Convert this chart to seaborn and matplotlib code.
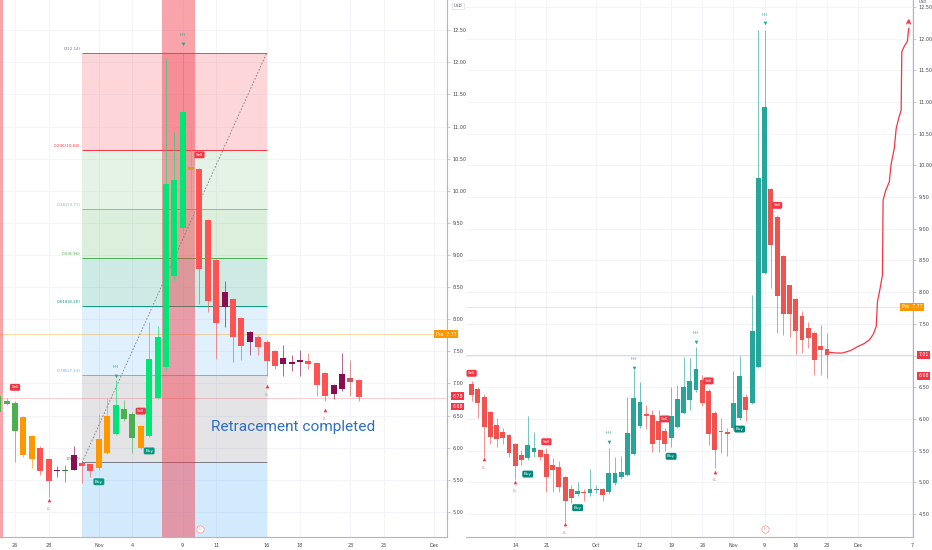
import numpy as np
import pandas as pd
import matplotlib
matplotlib.use('Agg')
import matplotlib.pyplot as plt
import matplotlib.transforms as mtrans
import seaborn as sns

# ---- left chart: 4h bars, two per trading day, x = trading days from Oct 26
l_start = -1.0
l_open = [6.55, 6.68, 6.70, 6.48, 6.19, 6.00, 5.82, 5.63, 5.64, 5.66, 5.76, 5.74,
          5.68, 5.91, 6.21, 6.61, 6.53, 6.34, 6.18, 6.78, 7.25, 8.68, 9.42, 10.37,
          10.34, 9.55, 8.92, 8.19, 8.31, 8.02, 7.65, 7.73, 7.65, 7.50, 7.30, 7.31,
          7.33, 7.35, 7.32, 7.17, 6.84, 6.92, 7.08, 7.06]
l_high = [6.85, 6.78, 6.72, 6.50, 6.20, 6.02, 5.84, 5.72, 5.73, 6.03, 5.80, 5.74,
          6.52, 6.77, 7.06, 6.75, 6.55, 6.36, 7.95, 7.90, 12.06, 10.92, 12.14, 10.94,
          10.36, 9.56, 8.94, 8.60, 8.33, 8.04, 7.82, 7.75, 7.67, 7.52, 7.60, 7.44,
          7.52, 7.48, 7.34, 7.18, 6.99, 7.48, 7.37, 7.07]
l_low = [6.50, 6.66, 5.77, 5.86, 5.69, 5.57, 5.24, 5.55, 5.47, 5.66, 5.45, 5.55,
         5.66, 5.90, 6.20, 6.42, 5.92, 5.98, 6.16, 6.76, 7.20, 8.60, 9.35, 9.75,
         8.23, 8.12, 7.375, 7.88, 7.33, 7.36, 7.45, 7.45, 7.11, 7.23, 7.11, 7.19,
         7.12, 7.22, 6.80, 6.73, 6.76, 6.88, 6.80, 6.73]
l_close = [6.80, 6.73, 6.26, 5.88, 5.83, 5.63, 5.48, 5.66, 5.65, 5.88, 5.72, 5.63,
           6.13, 6.50, 6.67, 6.44, 6.15, 6.00, 7.375, 7.72, 10.10, 10.17, 11.23, 10.33,
           8.78, 8.28, 7.94, 8.43, 7.72, 7.58, 7.80, 7.57, 7.35, 7.27, 7.39, 7.34,
           7.36, 7.30, 6.98, 6.81, 6.98, 7.14, 7.03, 6.79]
l_color = ['#4caf50', '#4caf50', '#4caf50', '#ff9800', '#ff9800', '#ff5252', '#ff5252',
           '#880e4f', '#2e7d32', '#880e4f', '#ff5252', '#ff5252', '#ff9800', '#ff9800',
           '#00e676', '#4caf50', '#4caf50', '#ff9800', '#00e676', '#00e676', '#00e676',
           '#00e676', '#00e676', '#c9a227', '#ff5252', '#ff5252', '#ff5252', '#880e4f',
           '#ff5252', '#ff5252', '#880e4f', '#ff5252', '#ff5252', '#ff5252', '#880e4f',
           '#880e4f', '#880e4f', '#ff5252', '#ff5252', '#ff5252', '#880e4f', '#880e4f',
           '#c75b5b', '#ff5252']
l_tick_pos = [0, 2, 5, 7, 10, 12, 15, 17, 20, 22, 25]
l_tick_lab = ['26', '28', 'Nov', '4', '9', '11', '16', '18', '23', '25', 'Dec']

fib_x = [4, 15]
fib_levels = [0, 0.236, 0.382, 0.5, 0.618, 0.786, 1]
fib_prices = [12.14, 10.64, 9.71, 8.96, 8.20, 7.13, 5.77]
fib_colors = ['#787b86', '#f23645', '#81c784', '#4caf50', '#089981', '#64b5f6', '#787b86']

l_sell = [(0, 6.94), (7.5, 6.57), (11, 10.56)]
l_buy = [(5, 5.47), (8, 5.95)]
l_hh = [(6, 7.11), (10, 12.28)]
l_ll = [(2, 5.19), (15, 6.96), (18.5, 6.59)]

# ---- right chart: daily bars, x = trading days from Sep 14
r_start = -7
r_open = [6.545, 6.466, 6.35, 6.11, 5.90, 5.80, 5.75, 5.60, 5.43, 5.39, 5.48, 5.51,
          5.45, 5.27, 5.24, 5.09, 4.89, 4.82, 4.84, 4.83, 4.88, 4.89, 4.84, 4.99,
          5.08, 5.12, 5.45, 5.89, 6.08, 6.06, 5.97, 5.81, 5.70, 5.88, 6.10, 6.30,
          6.45, 6.62, 6.44, 6.10, 5.81, 5.80, 5.85, 6.01, 6.34, 6.25, 6.82, 8.31,
          9.62, 9.19, 8.57, 8.11, 7.89, 7.63, 7.44, 7.36, 7.15, 7.11]
r_high = [6.60, 6.51, 6.40, 6.12, 6.01, 5.85, 5.76, 5.62, 5.51, 6.05, 5.80, 5.53,
          5.54, 5.38, 5.33, 5.10, 4.96, 5.01, 4.90, 5.21, 4.96, 4.91, 5.54, 5.40,
          5.41, 6.35, 6.77, 6.58, 6.22, 6.14, 6.14, 5.85, 6.51, 6.53, 6.97, 6.96,
          7.14, 6.69, 6.48, 6.12, 6.01, 5.85, 6.75, 7.00, 6.40, 7.95, 12.13, 12.13,
          9.64, 9.21, 8.59, 8.12, 7.91, 7.70, 7.53, 7.38, 7.48, 7.35]
r_low = [6.28, 6.01, 5.40, 5.61, 5.56, 5.61, 5.40, 5.06, 5.27, 5.35, 5.40, 5.35,
         4.85, 4.85, 4.85, 4.38, 4.67, 4.78, 4.70, 4.78, 4.83, 4.70, 4.82, 4.96,
         5.06, 5.10, 5.43, 5.86, 5.84, 5.48, 5.48, 5.50, 5.56, 5.86, 6.08, 6.14,
         6.43, 6.20, 5.59, 5.22, 5.46, 5.42, 5.83, 5.99, 5.96, 6.23, 6.80, 8.28,
         8.06, 7.35, 7.33, 7.30, 7.03, 7.04, 7.12, 6.69, 6.70, 6.65]
r_close = [6.377, 6.245, 5.88, 5.72, 5.68, 5.70, 5.47, 5.25, 5.35, 5.59, 5.54, 5.40,
           5.09, 5.19, 4.92, 4.70, 4.75, 4.87, 4.83, 4.90, 4.90, 4.80, 5.15, 5.14,
           5.17, 5.78, 6.33, 6.27, 6.05, 5.61, 5.66, 5.61, 6.05, 6.31, 6.50, 6.60,
           6.78, 6.25, 5.77, 5.51, 5.79, 5.76, 6.25, 6.68, 6.14, 7.39, 9.80, 10.92,
           8.75, 7.94, 7.65, 7.65, 7.38, 7.24, 7.27, 6.93, 7.09, 7.01]
r_tick_pos = [0, 5, 13, 20, 25, 30, 35, 40, 45, 50, 55, 63.7]
r_tick_lab = ['14', '21', 'Oct', '12', '19', '26', 'Nov', '9', '16', '23', 'Dec', '7']

r_sell = [(-7, 6.72), (5, 5.64), (24, 6.00), (31, 6.60), (42, 9.37)]
r_buy = [(2, 5.13), (10, 4.60), (25, 5.41), (36, 5.84)]
r_hh = [(15, 5.64), (19, 6.80), (29, 7.21), (40, 12.24)]
r_ll = [(-5, 5.36), (0, 5.01), (8, 4.34), (32, 5.17)]

# projected path drawn on the right chart
proj_x = [50.4, 51.5, 52.5, 53.8, 54.9, 56.0, 56.8, 57.4, 57.9, 58.0, 58.1, 58.5,
          58.9, 59.0, 59.4, 60.0, 60.3, 60.8, 61.1, 61.6, 61.9, 62.0, 62.4, 62.9,
          63.1, 63.1]
proj_y = [7.05, 7.04, 7.04, 7.08, 7.14, 7.19, 7.25, 7.33, 7.46, 7.65, 7.85, 8.05,
          8.27, 9.45, 9.60, 9.74, 10.03, 10.27, 10.58, 10.78, 10.87, 11.79, 11.88, 11.96,
          12.02, 12.30]

TEAL = '#26a69a'
RED = '#ef5350'
GRAY = '#434651'

sns.set_theme(style='white')
plt.rcParams['font.family'] = ['DejaVu Sans']

left = pd.DataFrame({'x': l_start + 0.5 * np.arange(len(l_open)), 'open': l_open,
                     'high': l_high, 'low': l_low, 'close': l_close, 'color': l_color})
right = pd.DataFrame({'x': r_start + np.arange(len(r_open)), 'open': r_open,
                      'high': r_high, 'low': r_low, 'close': r_close})
right['color'] = np.where(right['close'] >= right['open'], TEAL, RED)


def draw_candles(ax, df, width):
    lo = df[['open', 'close']].min(axis=1)
    hi = df[['open', 'close']].max(axis=1)
    ax.vlines(df['x'], df['low'], df['high'], colors=df['color'], lw=0.6, alpha=0.75, zorder=4)
    ax.bar(df['x'], (hi - lo).clip(lower=0.015), width, bottom=lo, color=df['color'],
           lw=0, zorder=5)


def tag(ax, x, y, txt, fc):
    ax.text(x, y, txt, ha='center', va='center', fontsize=3.0, color='white', zorder=9,
            bbox=dict(boxstyle='round,pad=0.35', fc=fc, ec='none'))


def pivots(ax, hh, ll, off):
    for x, y in hh:
        ax.scatter([x], [y], marker='v', s=7, color=TEAL, lw=0, zorder=9)
        ax.text(x, y + off, 'HH', ha='center', va='center', fontsize=3.0, color=TEAL, zorder=9)
    for x, y in ll:
        ax.scatter([x], [y], marker='^', s=7, color='#f23645', lw=0, zorder=9)
        ax.text(x, y - off, 'LL', ha='center', va='center', fontsize=3.0, color='#f77c80', zorder=9)


def price_box(ax, y, txt, fc, x=1.012):
    tr = mtrans.blended_transform_factory(ax.transAxes, ax.transData)
    ax.text(x, y, txt, transform=tr, ha='left', va='center', fontsize=3.3, color='white',
            zorder=10, clip_on=False,
            bbox=dict(boxstyle='square,pad=0.3', fc=fc, ec='none'))


def style_axis(ax, yticks, xpos, xlab):
    ax.yaxis.tick_right()
    ax.set_yticks(yticks)
    ax.set_yticklabels([f'{v:.2f}' for v in yticks])
    ax.set_xticks(xpos)
    ax.set_xticklabels(xlab)
    ax.tick_params(labelsize=3.5, colors='#b2b5be', labelcolor=GRAY, length=2, width=0.5, pad=2)
    ax.grid(True, color='#f0f3fa', lw=0.6)
    ax.set_axisbelow(True)
    for s in ['left', 'top']:
        ax.spines[s].set_visible(False)
    for s in ['right', 'bottom']:
        ax.spines[s].set_color('#b2b5be')
        ax.spines[s].set_linewidth(0.8)


fig = plt.figure(figsize=(9.32, 5.5), dpi=100)
axl = fig.add_axes([0, 13 / 550, 447 / 932, 537 / 550])
axr = fig.add_axes([466 / 932, 13 / 550, 447 / 932, 537 / 550])

# ---------------- left panel
axl.set_xlim(-0.894, 25.76)
axl.set_ylim(4.61, 12.97)
style_axis(axl, np.arange(5.0, 12.51, 0.5), l_tick_pos, l_tick_lab)
axl.text(1.015, 0.993, 'USD', transform=axl.transAxes, fontsize=3.0, color=GRAY,
         ha='left', va='top', bbox=dict(boxstyle='square,pad=0.3', fc='white', ec='#d1d4dc', lw=0.4))

for i in range(len(fib_prices) - 1):
    axl.fill_between(fib_x, fib_prices[i + 1], fib_prices[i], color=fib_colors[i + 1],
                     alpha=0.2, lw=0, zorder=1)
axl.fill_between(fib_x, 4.61, fib_prices[-1], color='#2196f3', alpha=0.2, lw=0, zorder=1)
for lev, p, c in zip(fib_levels, fib_prices, fib_colors):
    axl.hlines(p, fib_x[0], fib_x[1], color=c, lw=0.7, zorder=2)
    axl.text(fib_x[0] - 0.08, p + 0.03, f'{lev:g}({p:.2f})', ha='right', va='bottom',
             fontsize=3.0, color=c, zorder=3)
sns.lineplot(x=[fib_x[0], fib_x[1]], y=[fib_prices[-1], fib_prices[0]], ax=axl,
             color='#787b86', lw=0.6, linestyle=(0, (2, 2)), zorder=3)

axl.axvspan(8.77, 10.75, color='#f23645', alpha=0.45, lw=0, zorder=2.5)
axl.axvspan(-0.894, -0.72, color='#f23645', alpha=0.45, lw=0, zorder=2.5)
axl.axhline(7.77, color='#ff9800', lw=0.5, alpha=0.5, zorder=2)
axl.axhline(6.78, color='#f23645', lw=0.5, alpha=0.35, zorder=2)

draw_candles(axl, left, 0.36)
for x, y in l_sell:
    tag(axl, x, y, 'Sell', '#f23645')
for x, y in l_buy:
    tag(axl, x, y, 'Buy', '#089981')
pivots(axl, l_hh, l_ll, 0.14)

axl.text(11.69, 6.33, 'Retracement completed', fontsize=11.1, color='#2d6fc4',
         ha='left', va='center', zorder=9, family=['Roboto'])

price_box(axl, 7.77, 'Pre  7.77', '#ff9800', x=0.975)
price_box(axl, 6.80, '6.78', '#f23645')
price_box(axl, 6.64, '6.68', '#f23645')

# ---------------- right panel
axr.set_xlim(-7.9, 63.8)
axr.set_ylim(4.137, 12.61)
style_axis(axr, np.arange(4.5, 12.51, 0.5), r_tick_pos, r_tick_lab)
axr.text(1.012, 1.0, 'USD', transform=axr.transAxes, fontsize=2.8, color=GRAY,
         ha='left', va='top')
axr.axhline(7.77, color='#ff9800', lw=0.5, alpha=0.4, zorder=2)
axr.axhline(7.01, color='#f23645', lw=0.5, alpha=0.35, zorder=2)

draw_candles(axr, right, 0.78)
for x, y in r_sell:
    tag(axr, x, y, 'Sell', '#f23645')
for x, y in r_buy:
    tag(axr, x, y, 'Buy', '#00897b')
pivots(axr, r_hh, r_ll, 0.14)

sns.lineplot(x=proj_x, y=proj_y, sort=False, ax=axr, color='#f23645', lw=0.9, zorder=6)
axr.annotate('', xy=(proj_x[-1], proj_y[-1] + 0.06), xytext=(proj_x[-1], proj_y[-1] - 0.1),
             arrowprops=dict(arrowstyle='->', color='#f23645', lw=0.9, mutation_scale=7))

price_box(axr, 7.77, 'Pre  7.77', '#ff9800', x=0.975)
price_box(axr, 7.01, '7.01', '#f23645')
price_box(axr, 6.68, '6.68', '#f23645')

# earnings markers
for ax, xe in [(axl, 11.03), (axr, 40)]:
    tr = ax.get_xaxis_transform()
    ax.scatter([xe], [0.014], transform=tr, s=28, facecolor='white', edgecolor='#f7a1a1',
               lw=0.6, zorder=9, clip_on=False)
    ax.text(xe, 0.014, 'E', transform=tr, fontsize=3, color='#f7a1a1', ha='center',
            va='center', zorder=10)

fig.savefig('out.png', dpi=100)
